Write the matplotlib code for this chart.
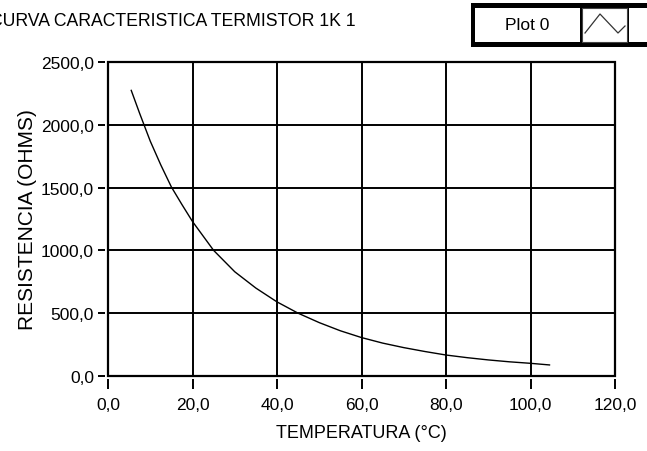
import matplotlib
matplotlib.use("Agg")
import matplotlib.pyplot as plt
from matplotlib.patches import Rectangle
from matplotlib.lines import Line2D
from matplotlib.ticker import FuncFormatter

plt.rcParams['font.family'] = ['Liberation Sans', 'DejaVu Sans']

# curva del termistor 1K (temperatura en °C, resistencia en ohms)
temperatura = [5.5, 7.5, 10, 12.5, 15, 17.5, 20, 25, 30, 35, 40, 45, 50, 55, 60,
               65, 70, 75, 80, 85, 90, 95, 100, 104.5]
resistencia = [2274, 2090, 1870, 1680, 1505, 1365, 1230, 1000, 830, 700, 590, 500,
               425, 360, 306, 262, 226, 195, 167, 146, 128, 113, 101, 88]

xticks = [0, 20, 40, 60, 80, 100, 120]
yticks = [0, 500, 1000, 1500, 2000, 2500]

W, H = 647, 452
fig = plt.figure(figsize=(W / 100, H / 100), dpi=100)


def px(x, y):
    # pixeles (origen arriba a la izquierda) -> fraccion de figura
    return x / W, 1 - y / H


left, right, top, bottom = 108, 615, 63, 377
ax = fig.add_axes([left / W, 1 - bottom / H, (right - left) / W, (bottom - top) / H])

ax.plot(temperatura, resistencia, color='black', lw=1.0)

ax.set_xlim(0, 120)
ax.set_ylim(0, 2500)
ax.set_xticks(xticks)
ax.set_yticks(yticks)
coma = FuncFormatter(lambda v, p: f"{v:.1f}".replace('.', ','))
ax.xaxis.set_major_formatter(coma)
ax.yaxis.set_major_formatter(coma)
ax.grid(True, color='black', lw=1.4)
ax.set_axisbelow(True)

# marco y escalas separadas del area de trazado
for s in ['top', 'right', 'left', 'bottom']:
    ax.spines[s].set_visible(False)
ax.spines['left'].set_position(('outward', 2))
ax.spines['bottom'].set_position(('outward', 2))
ax.patch.set_edgecolor('black')
ax.patch.set_linewidth(1.6)
ax.tick_params(direction='out', width=1.4, color='black', labelsize=12.5)
ax.tick_params(axis='x', length=7, pad=6)
ax.tick_params(axis='y', length=5, pad=3)

ax.set_xlabel('TEMPERATURA (°C)', fontsize=13, labelpad=9)
ax.set_ylabel('RESISTENCIA (OHMS)', fontsize=15, labelpad=3)

# titulo (recortado a la izquierda)
fig.text(*px(356, 22), 'CURVA CARACTERISTICA TERMISTOR 1K 1', ha='right',
         va='center', fontsize=12.7)

# leyenda del grafico
x0, y0 = px(471, 48)
fig.patches.append(Rectangle((x0, y0), (W - 471 + 5) / W, 44 / H,
                             transform=fig.transFigure, facecolor='black',
                             edgecolor='none'))
cx, cy = px(475, 43)
fig.patches.append(Rectangle((cx, cy), 105 / W, 34 / H, transform=fig.transFigure,
                             facecolor='white', edgecolor='none'))
ix, iy = px(582, 43)
fig.patches.append(Rectangle((ix, iy), 45 / W, 34 / H, transform=fig.transFigure,
                             facecolor='white', edgecolor='#444444', lw=0.8))
rx, ry = px(629, 43)
fig.patches.append(Rectangle((rx, ry), 30 / W, 34 / H, transform=fig.transFigure,
                             facecolor='white', edgecolor='none'))
icono = [px(585, 34), px(600, 15), px(618, 34), px(625, 27)]
fig.lines.append(Line2D([p[0] for p in icono], [p[1] for p in icono],
                        transform=fig.transFigure, color='#333333', lw=0.9))
fig.text(*px(527, 25), 'Plot 0', ha='center', va='center', fontsize=12.5)

fig.savefig('out.png', dpi=100)
